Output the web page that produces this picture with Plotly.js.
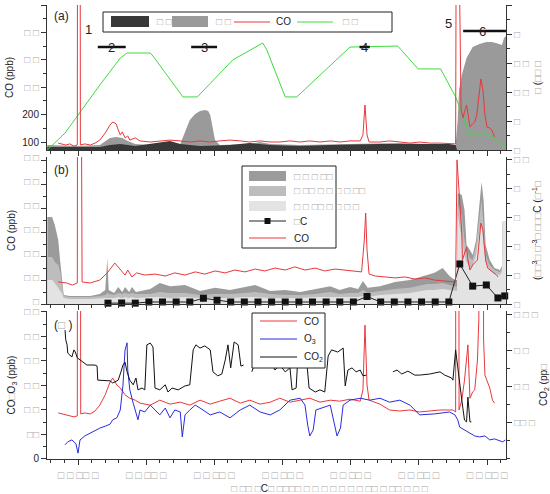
<!DOCTYPE html>
<html>
<head>
<meta charset="utf-8">
<script src="https://cdn.plot.ly/plotly-3.0.1.min.js"></script>
<style>html,body{margin:0;padding:0;background:#fff}#chart{width:550px;height:494px}</style>
</head>
<body>
<div id="chart"></div>
<script>
// ---------------- DATA (time in decimal hours) ----------------
// Panel (a)
const tA_co = [9.71,9.77,9.82,9.88,9.94,9.99,10.00,10.025,10.035,10.10,10.18,10.25,10.32,10.40,10.47,10.51,10.56,10.59,10.62,10.65,10.69,10.73,10.76,10.84,10.91,11.06,11.20,11.35,11.50,11.64,11.79,11.94,12.08,12.23,12.38,12.52,12.67,12.82,12.96,13.11,13.26,13.40,13.55,13.70,13.84,13.99,14.14,14.18,14.21,14.24,14.27,14.43,14.57,14.72,14.87,15.01,15.16,15.31,15.45,15.54,15.57,15.59,15.62,15.65,15.67,15.70,15.73,15.75,15.79,15.82,15.85,15.88,15.91,15.94,15.97,16.00,16.04,16.07,16.11];
const coA = [96,93,89,93,85,89,3000,3000,89,93,89,96,107,133,162,173,166,144,126,137,115,122,107,115,104,100,104,107,104,100,104,100,104,107,104,100,104,100,100,104,100,104,100,104,100,104,104,126,235,126,100,100,104,100,96,100,96,96,93,93,3000,800,217,188,210,235,188,155,166,173,199,272,330,290,199,155,151,144,118];
const tA_alt = [9.55,9.81,10.32,10.62,10.72,11.06,11.10,11.54,11.75,12.27,12.71,12.77,13.04,13.21,13.99,14.69,14.99,15.32,15.54,15.75,16.04,16.28];
const altA = [0,1.17,4.48,6.34,6.69,6.69,6.48,3.66,3.66,6.21,7.38,6.9,3.66,3.66,7.1,7.17,5.59,5.59,3.66,1.03,1.03,0.21];
const tA_med = [9.55,10.00,10.32,10.40,10.47,10.56,10.65,10.73,10.84,11.06,11.35,11.50,11.57,11.64,11.72,11.79,11.86,11.91,11.94,11.98,12.01,12.08,12.52,12.67,12.82,13.26,13.99,14.43,14.72,15.16,15.54,15.57,15.59,15.63,15.70,15.79,15.89,15.99,16.07,16.13,16.22,16.25,16.28];
const medA = [0.34,0.28,0.34,0.62,0.83,0.9,0.83,0.62,0.41,0.34,0.41,0.41,1.24,2.07,2.48,2.69,2.76,2.69,2.41,1.52,0.69,0.34,0.41,0.55,0.41,0.34,0.41,0.41,0.48,0.41,0.34,2.07,4.14,5.17,6.34,7.1,7.31,7.45,7.45,7.38,7.24,7.72,7.86];
const tA_dark = [9.55,10.32,10.47,10.62,10.84,11.20,11.35,11.50,11.79,12.23,12.52,12.82,13.26,13.70,14.43,15.01,15.45,15.54,15.56,16.28];
const darkA = [0.21,0.21,0.34,0.41,0.28,0.55,0.62,0.41,0.28,0.34,0.48,0.34,0.28,0.34,0.41,0.41,0.41,0.34,0,0];

// Panel (b)
const tB_co = [9.71,9.83,9.92,9.99,10.00,10.02,10.06,10.18,10.32,10.43,10.54,10.62,10.69,10.73,10.79,10.86,10.98,11.13,11.28,11.42,11.57,11.72,11.86,12.01,12.16,12.30,12.45,12.60,12.74,12.89,13.04,13.18,13.33,13.48,13.62,13.77,13.92,14.06,14.16,14.20,14.22,14.24,14.27,14.36,14.50,14.65,14.80,14.94,15.09,15.23,15.38,15.50,15.54,15.56,15.59,15.63,15.64,15.70,15.72,15.75,15.79,15.86,15.91,15.94,15.98,16.01,16.14,16.16];
const coB = [92,88,79,88,3000,3000,92,88,100,130,171,142,121,142,113,130,121,125,117,130,121,134,125,138,130,142,134,146,138,150,142,155,142,150,138,146,142,138,134,267,380,226,125,117,113,109,113,104,109,100,96,92,92,602,464,297,184,238,184,142,163,184,338,309,184,150,121,113];
const tB_f = [9.55,9.62,9.66,9.71,9.74,9.77,9.79,9.88,10.18,10.32,10.40,10.43,10.45,10.53,10.59,10.65,10.69,10.75,10.79,10.85,11.06,11.20,11.35,11.57,11.79,12.01,12.23,12.45,12.60,12.82,13.04,13.26,13.48,13.70,13.84,13.99,14.11,14.18,14.25,14.43,14.65,14.87,15.12,15.23,15.35,15.45,15.53,15.56,15.57,15.63,15.67,15.70,15.75,15.79,15.84,15.88,15.92,15.95,15.98,16.04,16.11,16.19,16.22,16.23,16.28];
const darkB = [30.2,30.2,27.4,22.2,14.6,8.3,3.1,2.8,2.8,3.5,4.9,16.0,4.9,3.8,5.9,4.2,5.9,4.2,5.9,4.2,5.2,7.3,6.2,6.6,4.5,5.6,4.9,5.9,6.6,4.5,4.9,4.2,5.2,6.2,4.9,5.9,5.2,8.0,5.6,6.2,7.6,8.3,10.1,10.8,12.5,9.7,8.3,8.3,38.5,37.8,32.6,20.5,18.7,17.0,22.2,32.6,42.3,36.1,20.5,15.3,12.5,11.8,13.2,28.5,28.5];
const medB = [16.3,16.3,14.6,13.5,11.1,6.2,2.8,2.4,2.4,2.8,3.1,3.8,3.5,3.1,3.8,3.5,3.8,3.5,3.8,3.5,3.5,4.2,3.8,3.8,3.1,3.5,3.5,3.8,4.2,3.5,3.1,3.1,3.5,4.2,3.5,3.8,3.8,4.9,3.8,4.5,5.2,5.6,6.9,6.9,7.3,6.6,5.9,5.9,34.4,30.9,22.2,18.7,16.0,15.3,20.5,29.1,36.1,27.4,17.0,13.5,11.8,11.1,12.5,28.5,28.5];
const lightB = [8.3,8.3,7.3,5.6,4.5,3.5,2.1,1.7,1.7,2.1,2.1,2.1,2.1,2.1,2.4,2.1,2.4,2.1,2.4,2.1,2.4,2.4,2.1,2.4,2.1,2.1,2.1,2.4,2.4,2.1,2.1,2.1,2.4,2.4,2.4,2.4,2.4,2.8,2.4,3.1,3.5,3.8,4.9,4.9,5.2,4.9,4.5,4.5,30.9,22.2,17.0,14.6,12.5,13.2,17.0,23.9,28.5,20.5,14.6,11.8,10.4,10.1,11.1,28.5,28.5];
const tBC = [10.44,10.64,10.84,11.04,11.24,11.44,11.64,11.84,12.04,12.24,12.44,12.64,12.84,13.04,13.24,13.44,13.64,13.84,14.04,14.24,14.44,14.64,14.84,15.04,15.24,15.44,15.60,15.79,15.99,16.16,16.26];
const bc = [0.3,0.35,0.3,0.7,0.7,0.7,0.7,2.0,1.3,0.7,0.7,0.7,0.7,0.7,0.7,0.7,0.7,0.7,0.7,2.6,0.7,0.7,0.7,0.7,0.7,0.7,13.9,6.2,6.6,2.1,2.8];

// Panel (c)
const tC_co = [9.71,9.81,9.88,9.94,9.99,10.00,10.02,10.04,10.10,10.18,10.25,10.32,10.40,10.47,10.51,10.57,10.62,10.69,10.76,10.84,10.91,11.06,11.20,11.35,11.50,11.64,11.79,11.94,12.08,12.23,12.38,12.52,12.67,12.82,12.96,13.11,13.26,13.40,13.55,13.70,13.84,13.99,14.14,14.18,14.21,14.24,14.27,14.43,14.57,14.72,14.87,15.01,15.16,15.31,15.50,15.54,15.55,15.57,15.59,15.63,15.67,15.72,15.75,15.79,15.82,15.86,15.88,15.89,15.93,15.95,15.97,16.04,16.08,16.11];
const coC = [94,90,88,86,88,3000,3000,92,94,92,98,110,131,157,165,151,145,131,124,120,114,110,120,112,116,110,120,112,118,124,114,120,112,116,124,116,120,124,116,120,118,122,118,141,273,151,120,112,100,98,100,96,98,100,100,96,3000,3000,100,120,161,233,124,137,141,202,284,3000,3000,243,171,145,120,114];
const tC_o3 = [9.81,9.85,9.91,9.97,10.00,10.03,10.10,10.18,10.25,10.32,10.40,10.47,10.51,10.57,10.62,10.66,10.69,10.72,10.73,10.76,10.81,10.85,10.88,10.91,10.98,11.06,11.13,11.20,11.28,11.35,11.42,11.50,11.53,11.57,11.64,11.72,11.79,11.94,12.08,12.23,12.38,12.52,12.67,12.82,12.96,13.11,13.26,13.33,13.37,13.40,13.45,13.49,13.70,13.76,13.80,13.85,13.89,13.99,14.14,14.28,14.43,14.57,14.72,14.87,15.01,15.23,15.45,15.53,15.57,15.60,15.67,15.75,15.82,15.89,15.97,16.04,16.11,16.19,16.23,16.27];
const o3C = [29,35,39,31,12,39,47,53,59,63,67,71,80,84,100,151,222,237,182,141,114,96,80,100,96,110,100,90,104,84,100,96,45,90,100,110,104,90,96,84,100,110,96,90,100,120,124,110,69,47,59,100,110,69,47,63,110,120,124,120,124,116,120,110,90,92,96,90,80,65,59,53,47,45,47,39,41,37,35,39];
const tC_co2 = [9.81,9.82,9.84,9.85,9.88,9.91,9.94,9.96,9.99,10.03,10.07,10.13,10.25,10.28,10.29,10.40,10.47,10.51,10.59,10.63,10.66,10.69,10.72,10.76,10.81,10.85,10.88,10.94,10.98,11.01,11.06,11.10,11.13,11.20,11.28,11.32,11.38,11.47,11.57,11.64,11.69,11.73,11.79,11.86,11.94,11.98,12.05,12.11,12.16,12.20,12.24,12.29,12.35,12.39,12.43,12.48,12.55,12.60,12.64,12.70,12.74,12.82,12.89,12.96,13.04,13.11,13.14,13.20,13.23,13.28,13.34,13.39,13.48,13.55,13.62,13.67,13.72,13.81,13.89,13.92,13.96,14.02,14.08,14.14,14.18,14.23,14.30,14.62,14.68,14.75,14.84,14.94,15.01,15.16,15.31,15.38,15.45,15.48,15.50,15.54,15.57,15.60,15.63,15.67,15.70,15.72,15.75,15.77];
const co2C = [395.8,393.1,391.7,389.4,388.9,388.3,390.3,389.7,388.1,387.5,386.9,386.1,386.1,385.8,381.9,381.9,381.7,381.1,381.9,384.2,386.1,386.9,384.2,381.9,380.6,382.5,379.2,379.7,379.2,391.7,392.2,391.1,379.7,379.2,380.6,378.6,379.7,379.2,380.3,380.6,390.3,391.7,390.8,391.4,390.3,384.2,383.1,383.6,387.5,391.7,385.3,392.5,391.7,385.8,386.1,null,384.2,386.9,385.3,388.1,385.8,386.9,384.7,386.1,384.2,385.3,379.2,379.7,389.7,390.8,390.3,379.7,378.6,379.2,378.6,388.6,390.3,389.7,390.8,380.3,384.7,385.3,384.2,384.7,383.1,383.3,null,384.2,384.7,383.6,384.4,383.3,383.3,383.6,384.2,383.3,382.8,382.5,381.9,390.3,385.6,380.6,376.4,370.8,370.3,377.2,370.3,370.3];

// Ticks and labels
const xTickVals = [10,11,12,13,14,15,16];
const xTickText = ['□ □ □□ □','□ □ □□ □','□ □ □□ □','□ □ □□ □','□ □ □□ □','□ □ □□ □','□ □ □□ □'];
const aLeftVals = [100,200,300,400,500,600];
const aLeftText = ['100','200','□ □','□ □','□ □','□ □'];
const aRightVals = [0,2,4,6,8,10];
const aRightText = ['□','□','□ □','□ □','□','□ □'];
const bLeftVals = [0,100,200,300,400,500,600];
const bLeftText = ['□','□ □','□ □','□ □','□ □','□ □','□ □'];
const bRightVals = [0,10,20,30,40,50];
const bRightText = ['□','□','□','□','□','□ □'];
const cLeftVals = [0,50,100,150,200,250,300];
const cLeftText = ['0','□□','□ □','□ □','□ □','□ □','□ □'];
const cRightVals = [370,380,390,400];
const cRightText = ['□□ □','□ □','□ □','□ □ □'];

// ---------------- STYLE ----------------
const FONT = 'Liberation Sans, Arial, DejaVu Sans, sans-serif';
const BOXC = '#a9a9a9';
const INK = '#222';
const RED = '#e8383d', GREEN = '#3ddc3d', BLUE = '#2b2bdc', BLACK = '#111';
const bx = s => s.replace(/□+/g, m => `<span style="color:${BOXC}">${m}</span>`);
const px = v => (v - 47) / 459;      // layout helper: pixel -> paper x
const py = v => (459 - v) / 454;     // layout helper: pixel -> paper y

const axBase = {showline:true, linecolor:'#333', linewidth:1, ticks:'outside', ticklen:5, tickwidth:1,
  tickcolor:'#333', showgrid:false, zeroline:false, tickfont:{family:FONT,size:10,color:INK}};
const titleFont = {family:FONT, size:10, color:INK};

const XR = [9.5453, 16.2787];
const xMinor = {tickmode:'linear', tick0:10, dtick:0.2, ticklen:3, ticks:'outside', tickcolor:'#333'};

const traces = [
  // (a)
  {x:tA_med, y:medA, xaxis:'x3', yaxis:'y5', mode:'lines', fill:'tozeroy', fillcolor:'#9a9a9a', line:{width:0,color:'#9a9a9a'}, name:'medium'},
  {x:tA_dark, y:darkA, xaxis:'x3', yaxis:'y5', mode:'lines', fill:'tozeroy', fillcolor:'#383838', line:{width:0,color:'#383838'}, name:'dark'},
  {x:tA_alt, y:altA, xaxis:'x3', yaxis:'y5', mode:'lines', line:{width:1,color:GREEN}, name:'alt'},
  {x:tA_co, y:coA, xaxis:'x3', yaxis:'y6', mode:'lines', line:{width:1,color:RED}, name:'CO'},
  // (b)
  {x:tB_f, y:darkB, xaxis:'x2', yaxis:'y3', mode:'lines', fill:'tozeroy', fillcolor:'#9b9b9b', line:{width:0,color:'#9b9b9b'}, name:'b1'},
  {x:tB_f, y:medB, xaxis:'x2', yaxis:'y3', mode:'lines', fill:'tozeroy', fillcolor:'#bdbdbd', line:{width:0,color:'#bdbdbd'}, name:'b2'},
  {x:tB_f, y:lightB, xaxis:'x2', yaxis:'y3', mode:'lines', fill:'tozeroy', fillcolor:'#e3e3e3', line:{width:0,color:'#e3e3e3'}, name:'b3'},
  {x:tBC, y:bc, xaxis:'x2', yaxis:'y3', mode:'lines+markers', cliponaxis:false, line:{width:1,color:'#222'}, marker:{symbol:'square',size:7,color:BLACK}, name:'BC'},
  {x:tB_co, y:coB, xaxis:'x2', yaxis:'y4', mode:'lines', line:{width:1,color:RED}, name:'CO'},
  // (c)
  {x:tC_co, y:coC, xaxis:'x', yaxis:'y', mode:'lines', line:{width:1,color:RED}, name:'CO'},
  {x:tC_o3, y:o3C, xaxis:'x', yaxis:'y', mode:'lines', line:{width:1,color:BLUE}, name:'O3'},
  {x:tC_co2, y:co2C, xaxis:'x', yaxis:'y2', mode:'lines', line:{width:1,color:BLACK}, name:'CO2'}
];

const layout = {
  width:550, height:494, margin:{l:47,r:44,t:5,b:35},
  paper_bgcolor:'#fff', plot_bgcolor:'rgba(0,0,0,0)', showlegend:false,
  font:{family:FONT,size:10,color:INK},
  xaxis:{...axBase, domain:[0,1], anchor:'y', range:XR, tickmode:'array', tickvals:xTickVals, ticktext:xTickText.map(bx),
    tickfont:{family:FONT,size:10.5,color:INK}, ticklabelstandoff:1, minor:xMinor},
  xaxis2:{...axBase, domain:[0,1], anchor:'y3', matches:'x', range:XR, tickmode:'array', tickvals:xTickVals, showticklabels:false, minor:xMinor},
  xaxis3:{...axBase, domain:[0,1], anchor:'y5', matches:'x', range:XR, tickmode:'array', tickvals:xTickVals, showticklabels:false, minor:xMinor},
  // (c)
  yaxis:{...axBase, domain:[0,0.326], anchor:'x', side:'left', range:[0,302], tickmode:'array', tickvals:cLeftVals, ticktext:cLeftText.map(bx),
    minor:{tickmode:'linear', tick0:0, dtick:25, ticklen:3, ticks:'outside', tickcolor:'#333'},
    title:{text:bx('CO□O<sub>3</sub> (ppb)'), font:titleFont, standoff:6}},
  yaxis2:{...axBase, overlaying:'y', anchor:'x', side:'right', range:[360,401.1], tickmode:'array', tickvals:cRightVals, ticktext:cRightText.map(bx),
    minor:{tickmode:'linear', tick0:360, dtick:5, ticklen:3, ticks:'outside', tickcolor:'#333'},
    title:{text:bx('CO<sub>2</sub> (pp□'), font:titleFont, standoff:6}},
  // (b)
  yaxis3:{...axBase, domain:[0.3414,0.6652], anchor:'x2', side:'right', range:[0,51], tickmode:'array', tickvals:bRightVals, ticktext:bRightText.map(bx),
    minor:{tickmode:'linear', tick0:0, dtick:5, ticklen:3, ticks:'outside', tickcolor:'#333'},
    title:{text:bx('(□□<sup>3</sup>□ □<sup>-3</sup>□ □□□C (□<sup>-1</sup>□'), font:titleFont, standoff:6}},
  yaxis4:{...axBase, overlaying:'y3', anchor:'x2', side:'left', range:[0,614], tickmode:'array', tickvals:bLeftVals, ticktext:bLeftText.map(bx),
    ticklabelshift:-3, ticklabeloverflow:'allow',
    minor:{tickmode:'linear', tick0:0, dtick:50, ticklen:3, ticks:'outside', tickcolor:'#333'},
    title:{text:'CO (ppb)', font:titleFont, standoff:6}},
  // (a)
  yaxis5:{...axBase, domain:[0.6806,1], anchor:'x3', side:'right', range:[0,10], tickmode:'array', tickvals:aRightVals, ticktext:aRightText.map(bx),
    minor:{tickmode:'linear', tick0:0, dtick:1, ticklen:3, ticks:'outside', tickcolor:'#333'},
    title:{text:bx('□ (□□ □'), font:titleFont, standoff:6}},
  yaxis6:{...axBase, overlaying:'y5', anchor:'x3', side:'left', range:[70.8,600], tickmode:'array', tickvals:aLeftVals, ticktext:aLeftText.map(bx),
    minor:{tickmode:'linear', tick0:0, dtick:50, ticklen:3, ticks:'outside', tickcolor:'#333'},
    title:{text:'CO (ppb)', font:titleFont, standoff:6}},
  shapes:[
    // period bars (data x)
    {type:'line', xref:'x3', yref:'paper', x0:10.29, x1:10.70, y0:py(47), y1:py(47), line:{color:'#111',width:2.5}},
    {type:'line', xref:'x3', yref:'paper', x0:11.66, x1:12.04, y0:py(47), y1:py(47), line:{color:'#111',width:2.5}},
    {type:'line', xref:'x3', yref:'paper', x0:14.13, x1:14.28, y0:py(47), y1:py(47), line:{color:'#111',width:2.5}},
    {type:'line', xref:'x3', yref:'paper', x0:15.65, x1:16.278, y0:py(31), y1:py(31), line:{color:'#111',width:2.5}},
    // legend (a)
    {type:'rect', xref:'paper', yref:'paper', layer:'above', x0:px(103), x1:px(392), y0:py(32), y1:py(12), line:{color:'#222',width:1}, fillcolor:'#fff'},
    {type:'rect', xref:'paper', yref:'paper', layer:'above', x0:px(111), x1:px(149), y0:py(27), y1:py(16), line:{width:0}, fillcolor:'#383838'},
    {type:'rect', xref:'paper', yref:'paper', layer:'above', x0:px(172), x1:px(208), y0:py(27), y1:py(16), line:{width:0}, fillcolor:'#9a9a9a'},
    {type:'line', xref:'paper', yref:'paper', layer:'above', x0:px(234), x1:px(270), y0:py(22), y1:py(22), line:{color:RED,width:1}},
    {type:'line', xref:'paper', yref:'paper', layer:'above', x0:px(297), x1:px(333), y0:py(22), y1:py(22), line:{color:GREEN,width:1}},
    // legend (b)
    {type:'rect', xref:'paper', yref:'paper', layer:'above', x0:px(242), x1:px(336), y0:py(248), y1:py(166), line:{color:'#222',width:1}, fillcolor:'#fff'},
    {type:'rect', xref:'paper', yref:'paper', layer:'above', x0:px(249), x1:px(286), y0:py(181), y1:py(171), line:{width:0}, fillcolor:'#9b9b9b'},
    {type:'rect', xref:'paper', yref:'paper', layer:'above', x0:px(249), x1:px(286), y0:py(196), y1:py(186), line:{width:0}, fillcolor:'#bdbdbd'},
    {type:'rect', xref:'paper', yref:'paper', layer:'above', x0:px(249), x1:px(286), y0:py(211), y1:py(201), line:{width:0}, fillcolor:'#e3e3e3'},
    {type:'line', xref:'paper', yref:'paper', layer:'above', x0:px(249), x1:px(286), y0:py(221), y1:py(221), line:{color:'#222',width:1}},
    {type:'rect', xref:'paper', yref:'paper', layer:'above', x0:px(264.5), x1:px(270.5), y0:py(224), y1:py(218), line:{width:0}, fillcolor:BLACK},
    {type:'line', xref:'paper', yref:'paper', layer:'above', x0:px(249), x1:px(286), y0:py(238), y1:py(238), line:{color:RED,width:1}},
    // legend (c)
    {type:'rect', xref:'paper', yref:'paper', layer:'above', x0:px(252), x1:px(325), y0:py(368), y1:py(313), line:{color:'#222',width:1}, fillcolor:'#fff'},
    {type:'line', xref:'paper', yref:'paper', layer:'above', x0:px(260), x1:px(297), y0:py(321), y1:py(321), line:{color:RED,width:1}},
    {type:'line', xref:'paper', yref:'paper', layer:'above', x0:px(260), x1:px(297), y0:py(339), y1:py(339), line:{color:BLUE,width:1}},
    {type:'line', xref:'paper', yref:'paper', layer:'above', x0:px(260), x1:px(297), y0:py(357), y1:py(357), line:{color:BLACK,width:1}}
  ],
  annotations:[
    // panel labels
    {xref:'paper', yref:'paper', x:px(52), y:py(16), xanchor:'left', yanchor:'middle', text:'(a)', showarrow:false, font:{family:FONT,size:12,color:INK}},
    {xref:'paper', yref:'paper', x:px(52), y:py(170), xanchor:'left', yanchor:'middle', text:'(b)', showarrow:false, font:{family:FONT,size:12,color:INK}},
    {xref:'paper', yref:'paper', x:px(52), y:py(325), xanchor:'left', yanchor:'middle', text:bx('(□ )'), showarrow:false, font:{family:FONT,size:12,color:INK}},
    // period numbers
    {xref:'x3', yref:'paper', x:10.15, y:py(20), text:'1', showarrow:false, font:{family:FONT,size:13,color:INK}},
    {xref:'x3', yref:'paper', x:10.49, y:py(38), text:'2', showarrow:false, font:{family:FONT,size:13,color:INK}},
    {xref:'x3', yref:'paper', x:11.86, y:py(38), text:'3', showarrow:false, font:{family:FONT,size:13,color:INK}},
    {xref:'x3', yref:'paper', x:14.21, y:py(38), text:'4', showarrow:false, font:{family:FONT,size:13,color:INK}},
    {xref:'x3', yref:'paper', x:15.43, y:py(14), text:'5', showarrow:false, font:{family:FONT,size:13,color:INK}},
    {xref:'x3', yref:'paper', x:15.94, y:py(22), text:'6', showarrow:false, font:{family:FONT,size:13,color:INK}},
    // x-axis title
    {xref:'paper', yref:'paper', x:px(329), y:py(488.5), xanchor:'center', yanchor:'middle', showarrow:false,
      text:bx('□ □□ □C□ □□□□ □ □ □ □ □ □ □ □□ □ □□ □ □ □'), font:{family:FONT,size:10,color:INK}},
    // legend (a) texts
    {xref:'paper', yref:'paper', x:px(164), y:py(22), xanchor:'center', yanchor:'middle', showarrow:false, text:bx('□ □'), font:{family:FONT,size:10,color:INK}},
    {xref:'paper', yref:'paper', x:px(223), y:py(22), xanchor:'center', yanchor:'middle', showarrow:false, text:bx('□ □'), font:{family:FONT,size:10,color:INK}},
    {xref:'paper', yref:'paper', x:px(283), y:py(22), xanchor:'center', yanchor:'middle', showarrow:false, text:'CO', font:{family:FONT,size:10,color:INK}},
    {xref:'paper', yref:'paper', x:px(350), y:py(22), xanchor:'center', yanchor:'middle', showarrow:false, text:bx('□ □'), font:{family:FONT,size:10,color:INK}},
    // legend (b) texts
    {xref:'paper', yref:'paper', x:px(292), y:py(176), xanchor:'left', yanchor:'middle', showarrow:false, text:bx('□ □ □ □□'), font:{family:FONT,size:10,color:INK}},
    {xref:'paper', yref:'paper', x:px(292), y:py(191), xanchor:'left', yanchor:'middle', showarrow:false, text:bx('□ □□ □ □ □ □ □□'), font:{family:FONT,size:10,color:INK}},
    {xref:'paper', yref:'paper', x:px(292), y:py(206), xanchor:'left', yanchor:'middle', showarrow:false, text:bx('□ □ □□ □ □ □ □'), font:{family:FONT,size:10,color:INK}},
    {xref:'paper', yref:'paper', x:px(292), y:py(221), xanchor:'left', yanchor:'middle', showarrow:false, text:bx('□C'), font:{family:FONT,size:10,color:INK}},
    {xref:'paper', yref:'paper', x:px(292), y:py(238), xanchor:'left', yanchor:'middle', showarrow:false, text:'CO', font:{family:FONT,size:10,color:INK}},
    // legend (c) texts
    {xref:'paper', yref:'paper', x:px(302), y:py(321), xanchor:'left', yanchor:'middle', showarrow:false, text:'CO', font:{family:FONT,size:10,color:INK}},
    {xref:'paper', yref:'paper', x:px(302), y:py(339), xanchor:'left', yanchor:'middle', showarrow:false, text:'O<sub>3</sub>', font:{family:FONT,size:10,color:INK}},
    {xref:'paper', yref:'paper', x:px(302), y:py(357), xanchor:'left', yanchor:'middle', showarrow:false, text:'CO<sub>2</sub>', font:{family:FONT,size:10,color:INK}}
  ]
};

Plotly.newPlot('chart', traces, layout, {displayModeBar:false, staticPlot:true});
</script>
</body>
</html>
